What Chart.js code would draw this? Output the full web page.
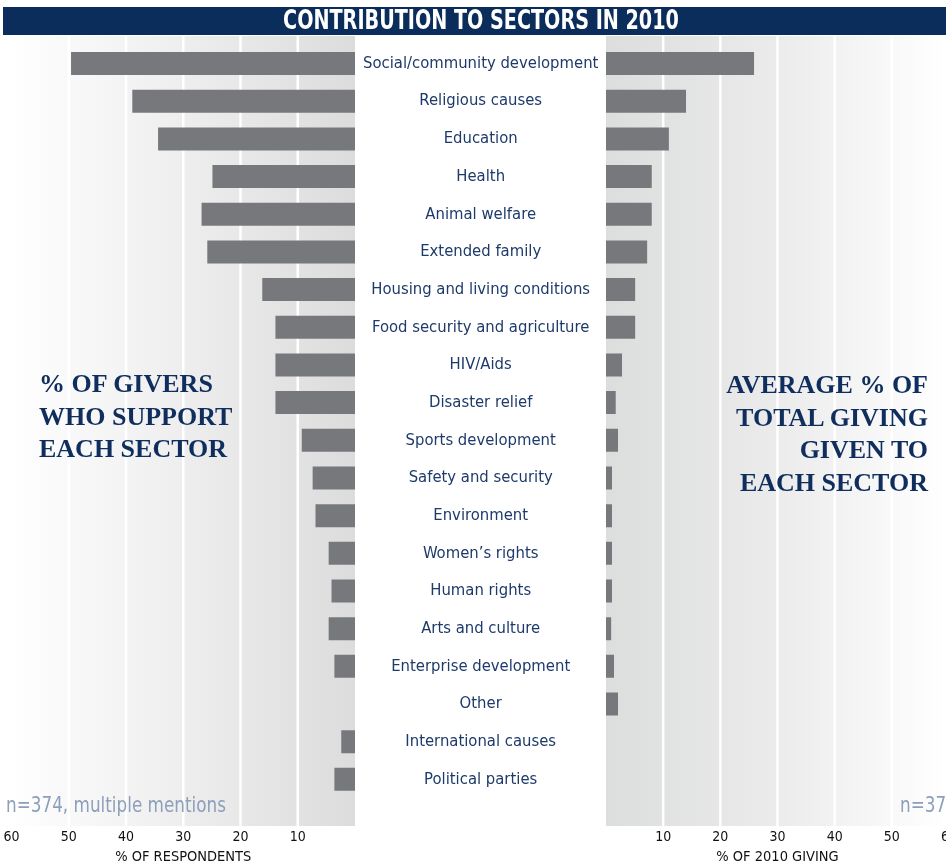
<!DOCTYPE html>
<html>
<head>
<meta charset="UTF-8">
<title>Contribution to sectors in 2010</title>
<script src="https://cdn.jsdelivr.net/npm/chart.js"></script>
<style>
  html, body {
    margin: 0;
    padding: 0;
    background: #fff;
    width: 946px;
    height: 866px;
    overflow: hidden;
  }
  #wrap {
    position: relative;
    width: 946px;
    height: 866px;
    overflow: hidden;
  }
  #titlebar {
    position: absolute;
    left: 3px;
    top: 7px;
    width: 943px;
    height: 28px;
    background: #0b2d5b;
  }
  #titletext {
    position: absolute;
    left: 181px;
    width: 600px;
    top: 5px;
    height: 32px;
    line-height: 32px;
    text-align: center;
    color: #fff;
    font: bold 26px 'DejaVu Sans Condensed', sans-serif;
    white-space: nowrap;
    transform: scaleX(0.82);
  }
  #leftBox {
    position: absolute;
    left: 0;
    top: 0;
    width: 606px;
    height: 866px;
  }
  #rightBox {
    position: absolute;
    left: 606px;
    top: 0;
    width: 382px;
    height: 866px;
  }
  .side {
    position: absolute;
    color: #0f2e5e;
    font: bold 26px 'Liberation Serif', 'DejaVu Serif', serif;
    line-height: 32.5px;
    white-space: nowrap;
  }
  #sideLeft { left: 39px; top: 368px; text-align: left; }
  #sideRight { right: 18px; top: 369px; text-align: right; }
  .note {
    position: absolute;
    color: #8d9fba;
    font: 22px 'DejaVu Sans Condensed', sans-serif;
    white-space: nowrap;
    top: 792px;
    transform: scaleX(0.85);
    transform-origin: left center;
  }
</style>
</head>
<body>
<div id="wrap">
  <div id="leftBox"><canvas id="givers"></canvas></div>
  <div id="rightBox"><canvas id="giving"></canvas></div>
  <div id="titlebar"></div>
  <div id="titletext">CONTRIBUTION TO SECTORS IN 2010</div>
  <div class="side" id="sideLeft">% OF GIVERS<br>WHO SUPPORT<br>EACH SECTOR</div>
  <div class="side" id="sideRight">AVERAGE % OF<br>TOTAL GIVING<br>GIVEN TO<br>EACH SECTOR</div>
  <div class="note" style="left:6px">n=374, multiple mentions</div>
  <div class="note" style="left:900px">n=374, multiple mentions</div>
</div>

<script>
// sectors, top to bottom
const sectors = [
  'Social/community development', 'Religious causes', 'Education', 'Health',
  'Animal welfare', 'Extended family', 'Housing and living conditions',
  'Food security and agriculture', 'HIV/Aids', 'Disaster relief',
  'Sports development', 'Safety and security', 'Environment',
  'Women\u2019s rights', 'Human rights', 'Arts and culture',
  'Enterprise development', 'Other', 'International causes', 'Political parties'
];

// % of givers who support each sector
const giversPct = [49.6, 38.9, 34.4, 24.9, 26.8, 25.8, 16.2, 13.9, 13.9, 13.9,
                   9.3, 7.4, 6.9, 4.6, 4.1, 4.6, 3.6, 0, 2.4, 3.6];

// average % of total 2010 giving given to each sector
const givingPct = [25.9, 14, 11, 8, 8, 7.2, 5.1, 5.1, 2.8, 1.7,
                   2.1, 1.05, 1.05, 1.05, 1.05, 0.9, 1.4, 2.1, 0, 0];

const tickValues = [10, 20, 30, 40, 50, 60];

const BAR = '#77787c';
const NAVY = '#1d3a6a';
const COND = "'DejaVu Sans Condensed', sans-serif";
const BAND_TOP = 36, BAND_BOTTOM = 826;

// shaded panel behind the bars, with white lines at every tick
function bandPlugin(fromX, toX, dark) {
  return {
    id: 'bands',
    beforeDraw(chart) {
      const ctx = chart.ctx;
      const x = chart.scales.x;
      const a = typeof fromX === 'function' ? fromX(chart) : fromX;
      const b = typeof toX === 'function' ? toX(chart) : toX;
      ctx.save();
      const g = ctx.createLinearGradient(a, 0, b, 0);
      if (dark === 'right') {
        g.addColorStop(0, '#ffffff');
        g.addColorStop(0.5, '#eeeeee');
        g.addColorStop(1, '#dcdcdc');
      } else {
        g.addColorStop(0, '#dcdddd');
        g.addColorStop(0.5, '#ebebeb');
        g.addColorStop(1, '#ffffff');
      }
      ctx.fillStyle = g;
      ctx.fillRect(Math.min(a, b), BAND_TOP, Math.abs(b - a), BAND_BOTTOM - BAND_TOP);
      ctx.strokeStyle = '#ffffff';
      ctx.lineWidth = 2.5;
      x.ticks.forEach(t => {
        if (t.value >= 60) return;
        const px = x.getPixelForValue(t.value);
        ctx.beginPath();
        ctx.moveTo(px, BAND_TOP);
        ctx.lineTo(px, BAND_BOTTOM);
        ctx.stroke();
      });
      ctx.restore();
    }
  };
}

function xAxis(title, reverse) {
  return {
    type: 'linear',
    min: 0,
    max: 60,
    reverse: reverse,
    afterBuildTicks(scale) {
      scale.ticks = tickValues.map(v => ({ value: v }));
    },
    afterFit(scale) { scale.height = 67.8; },
    grid: { display: false, drawTicks: false },
    border: { display: false },
    ticks: {
      padding: 31,
      color: '#111',
      font: { family: COND, size: 14 }
    },
    title: {
      display: true,
      text: title,
      color: '#111',
      font: { family: COND, size: 14.5 },
      padding: { top: 2, bottom: 0.5 }
    }
  };
}

const leftChart = new Chart(document.getElementById('givers'), {
  type: 'bar',
  data: {
    labels: sectors,
    datasets: [{
      data: giversPct,
      backgroundColor: BAR,
      categoryPercentage: 1,
      barPercentage: 0.61
    }]
  },
  options: {
    indexAxis: 'y',
    responsive: true,
    maintainAspectRatio: false,
    animation: false,
    layout: { padding: { top: 44.7, left: 11.5, right: 0, bottom: 0 } },
    plugins: { legend: { display: false }, tooltip: { enabled: false } },
    scales: {
      x: xAxis('% OF RESPONDENTS', true),
      y: {
        position: 'right',
        afterFit(scale) { scale.width = 251; },
        grid: { display: false, drawTicks: false },
        border: { display: false },
        ticks: {
          crossAlign: 'center',
          padding: 8,
          color: NAVY,
          font: { family: COND, size: 16.5 }
        }
      }
    }
  },
  plugins: [bandPlugin(6, c => c.scales.x.getPixelForValue(0), 'right')]
});

const rightChart = new Chart(document.getElementById('giving'), {
  type: 'bar',
  data: {
    labels: sectors,
    datasets: [{
      data: givingPct,
      backgroundColor: BAR,
      categoryPercentage: 1,
      barPercentage: 0.61
    }]
  },
  options: {
    indexAxis: 'y',
    responsive: true,
    maintainAspectRatio: false,
    animation: false,
    layout: { padding: { top: 44.7, left: 0, right: 39, bottom: 0 } },
    plugins: { legend: { display: false }, tooltip: { enabled: false } },
    scales: {
      x: xAxis('% OF 2010 GIVING', false),
      y: { display: false }
    }
  },
  plugins: [bandPlugin(c => c.scales.x.getPixelForValue(0), 340, 'left')]
});
</script>
</body>
</html>
